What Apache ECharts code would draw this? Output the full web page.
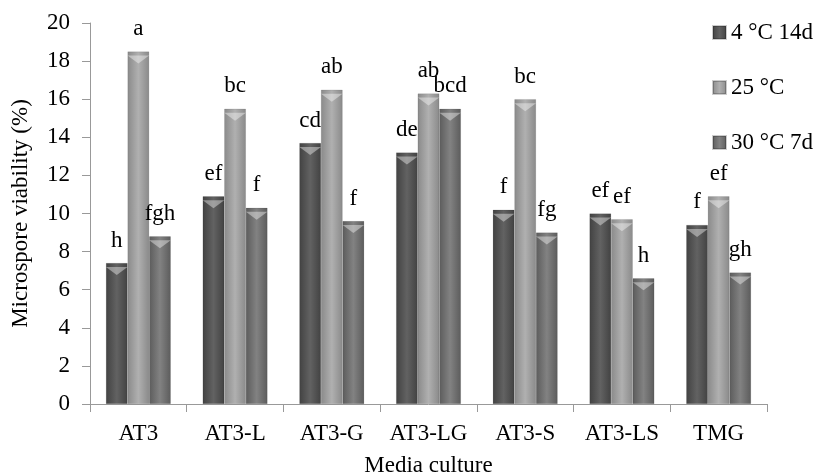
<!DOCTYPE html>
<html>
<head>
<meta charset="utf-8">
<script src="https://cdn.jsdelivr.net/npm/echarts@6/dist/echarts.min.js"></script>
<style>
  html, body { margin: 0; padding: 0; background: #fff; }
  #chart { width: 823px; height: 476px; }
</style>
</head>
<body>
<div id="chart"></div>
<script>
const categories = ['AT3', 'AT3-L', 'AT3-G', 'AT3-LG', 'AT3-S', 'AT3-LS', 'TMG'];
const seriesNames = ['4 °C 14d', '25 °C', '30 °C 7d'];
const cold = [7.4, 10.9, 13.7, 13.2, 10.2, 10.0, 9.4];
const mid = [18.5, 15.5, 16.5, 16.3, 16.0, 9.7, 10.9];
const hot = [8.8, 10.3, 9.6, 15.5, 9.0, 6.6, 6.9];
const coldLetters = ['h', 'ef', 'cd', 'de', 'f', 'ef', 'f'];
const midLetters = ['a', 'bc', 'ab', 'ab', 'bc', 'ef', 'ef'];
const hotLetters = ['fgh', 'f', 'f', 'bcd', 'fg', 'h', 'gh'];

const font = 'Liberation Serif, Times New Roman, serif';
const txt = { fontFamily: font, fontSize: 23, color: '#000' };

// cylinder-like shading across each bar
function shade(edge, centre) {
  return {
    type: 'linear', x: 0, y: 0, x2: 1, y2: 0,
    colorStops: [
      { offset: 0, color: edge },
      { offset: 0.5, color: centre },
      { offset: 1, color: edge }
    ]
  };
}

function makeSeries(name, values, letters, edge, centre) {
  return {
    name: name,
    type: 'bar',
    barGap: '0%',
    barCategoryGap: '33%',
    data: values,
    itemStyle: { color: shade(edge, centre), borderColor: 'rgba(0,0,0,0.2)', borderWidth: 0.5 },
    label: Object.assign({
      show: true,
      position: 'top',
      distance: 11,
      formatter: p => letters[p.dataIndex]
    }, txt)
  };
}

// the little light bevel on top of each bar
function makeCap(values) {
  return {
    type: 'pictorialBar',
    barGap: '0%',
    barCategoryGap: '33%',
    data: values,
    symbol: 'triangle',
    symbolRotate: 180,
    symbolSize: ['100%', 8],
    symbolPosition: 'end',
    symbolOffset: [0, '50%'],
    itemStyle: { color: 'rgba(255,255,255,0.4)' },
    silent: true,
    z: 3
  };
}

const chart = echarts.init(document.getElementById('chart'));
chart.setOption({
  animation: false,
  grid: { left: 90, right: 56, top: 23, bottom: 72, outerBoundsMode: 'none', containLabel: false },
  legend: {
    orient: 'vertical',
    left: 707,
    top: 16,
    itemWidth: 13,
    itemHeight: 13,
    itemGap: 32,
    icon: 'rect',
    textStyle: txt,
    data: seriesNames
  },
  xAxis: {
    type: 'category',
    data: categories,
    name: 'Media culture',
    nameLocation: 'middle',
    nameGap: 50,
    nameTextStyle: txt,
    axisLine: { lineStyle: { color: '#999' } },
    axisTick: { show: true, length: 8, lineStyle: { color: '#999' } },
    axisLabel: Object.assign({ margin: 18, interval: 0 }, txt)
  },
  yAxis: {
    type: 'value',
    min: 0,
    max: 20,
    interval: 2,
    name: 'Microspore viability (%)',
    nameLocation: 'middle',
    nameGap: 58,
    nameTextStyle: txt,
    axisLine: { show: true, lineStyle: { color: '#999' } },
    axisTick: { show: true, length: 8, lineStyle: { color: '#999' } },
    splitLine: { show: false },
    axisLabel: Object.assign({ margin: 20 }, txt)
  },
  series: [
    makeSeries(seriesNames[0], cold, coldLetters, '#424242', '#626262'),
    makeSeries(seriesNames[1], mid, midLetters, '#8a8a8a', '#b0b0b0'),
    makeSeries(seriesNames[2], hot, hotLetters, '#5c5c5c', '#828282'),
    makeCap(cold),
    makeCap(mid),
    makeCap(hot)
  ]
});
</script>
</body>
</html>
